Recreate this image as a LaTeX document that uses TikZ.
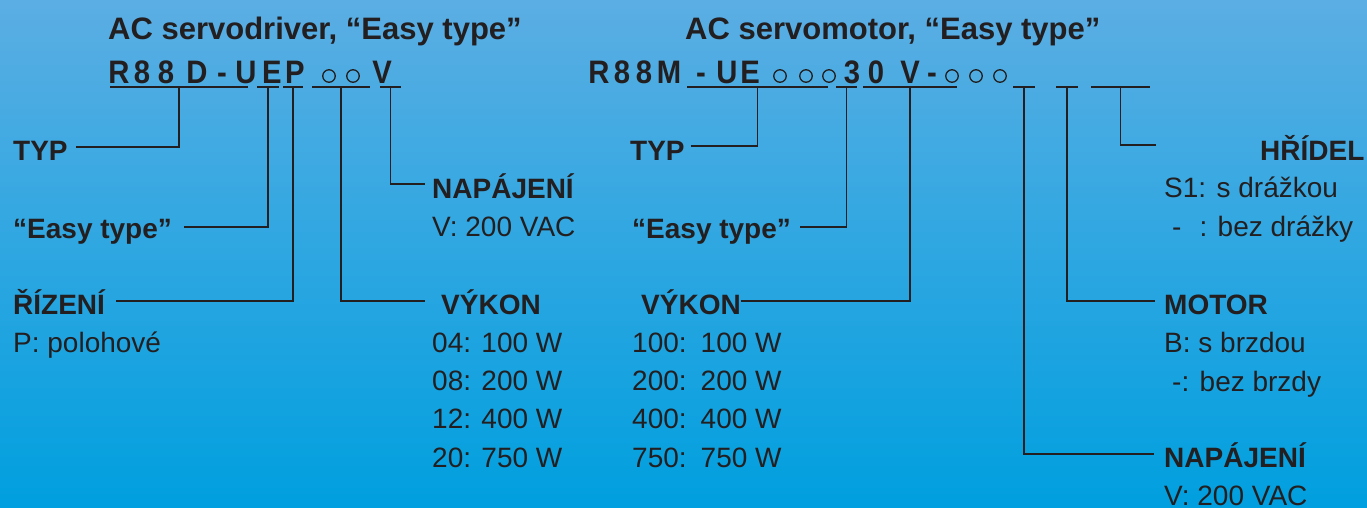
\documentclass[tikz,border=0pt]{standalone}
\usepackage{fontspec}
\setmainfont{Liberation Sans}
\newfontfamily\codefont[FakeStretch=0.9]{Liberation Sans Bold}
\definecolor{bgTop}{HTML}{5BAEE3}
\definecolor{bgBottom}{HTML}{009FDF}
\definecolor{ink}{HTML}{231F20}
\tikzset{
  titletext/.style={font=\bfseries\fontsize{31}{36}\selectfont, text=ink,
    anchor=base west, inner sep=0pt},
  heading/.style={font=\bfseries\fontsize{28}{32}\selectfont, text=ink,
    anchor=base west, inner sep=0pt},
  entry/.style={font=\fontsize{28}{38.3}\selectfont, text=ink,
    anchor=base west, inner sep=0pt, align=left},
  codechar/.style={font=\codefont\fontsize{32.5}{36}\selectfont,
    text=ink, anchor=base, inner sep=0pt},
  slot/.style={circle, draw=ink, line width=1.3pt, minimum size=12.5pt,
    inner sep=0pt},
  lead/.style={draw=ink, line width=1.5pt}
}
\newcommand{\codechar}[3]{\node[codechar] (#1) at (#2,83) {#3};}
\newcommand{\codeslot}[2]{\node[slot] (#1) at (#2,76) {};}
\newcommand{\codeline}[3]{\draw[lead] (#2,87) -- coordinate (#1) (#3,87);}

\begin{document}
\begin{tikzpicture}[x=1pt, y=-1pt]

\shade[top color=bgTop, bottom color=bgBottom] (0,0) rectangle (1367,507);
\useasboundingbox (0,0) rectangle (1367,507);

% Servodriver: R88D-UEP..V
\node[titletext] (drvTitle) at (108,39) {AC servodriver, “Easy type”};
\codechar{drvR}{119}{R}
\codechar{drvEighta}{142}{8}
\codechar{drvEightb}{166}{8}
\codechar{drvD}{197}{D}
\codechar{drvDash}{222}{-}
\codechar{drvU}{246}{U}
\codechar{drvE}{272}{E}
\codechar{drvP}{295}{P}
\codeslot{drvSlota}{329}
\codeslot{drvSlotb}{353}
\codechar{drvV}{382}{V}

\codeline{uDrvTyp}{110}{248}
\codeline{uDrvEasy}{257}{279}
\codeline{uDrvCtrl}{283}{303}
\codeline{uDrvPower}{312}{370}
\codeline{uDrvSupply}{380}{401}

\node[heading] (drvTyp) at (13,160) {TYP};
\node[heading] (drvEasy) at (13,238) {“Easy type”};
\node[heading] (drvCtrl) at (13,314) {ŘÍZENÍ};
\node[entry] (drvCtrlList) at (13,352) {P: polohové};
\node[heading] (drvSupply) at (432,198) {NAPÁJENÍ};
\node[entry] (drvSupplyList) at (432,236) {V: 200 VAC};
\node[heading] (drvPower) at (441,314) {VÝKON};
% base of a multi-line entry is its last line
\node[entry] (drvPowerList) at (432,467)
  {04: 100 W\\08: 200 W\\12: 400 W\\20: 750 W};

\draw[lead] ([shift={(8,-13)}]drvTyp.base east) -| (uDrvTyp);
\draw[lead] ([shift={(12,-11)}]drvEasy.base east) -| (uDrvEasy);
\draw[lead] ([shift={(11,-13)}]drvCtrl.base east) -| (uDrvCtrl);
\draw[lead] (uDrvPower) |- ([shift={(-16,-13)}]drvPower.base west);
\draw[lead] (uDrvSupply) |- ([shift={(-7,-14)}]drvSupply.base west);

% Servomotor: R88M-UE...30V-...
\node[titletext] (motTitle) at (685,39) {AC servomotor, “Easy type”};
\codechar{motR}{599}{R}
\codechar{motEighta}{622}{8}
\codechar{motEightb}{644}{8}
\codechar{motM}{669}{M}
\codechar{motDash}{701}{-}
\codechar{motU}{727}{U}
\codechar{motE}{750}{E}
\codeslot{motSlota}{780}
\codeslot{motSlotb}{806}
\codeslot{motSlotc}{829}
\codechar{motThree}{852}{3}
\codechar{motZero}{876}{0}
\codechar{motV}{910}{V}
\codechar{motDashb}{932}{-}
\codeslot{motSlotd}{952}
\codeslot{motSlote}{976}
\codeslot{motSlotf}{1000}

\codeline{uMotTyp}{687}{828}
\codeline{uMotEasy}{836}{857}
\codeline{uMotPower}{863}{957}
\codeline{uMotSupply}{1013}{1035}
\codeline{uMotBrake}{1056}{1078}
\codeline{uMotShaft}{1091}{1150}

\node[heading] (motTyp) at (630,160) {TYP};
\node[heading] (motEasy) at (632,238) {“Easy type”};
\node[heading] (motPower) at (641,314) {VÝKON};
\node[entry] (motPowerList) at (632,467)
  {100:\hspace{14pt}100 W\\200:\hspace{14pt}200 W\\400:\hspace{14pt}400 W\\750:\hspace{14pt}750 W};
\node[heading] (motShaft) at (1260,160) {HŘÍDEL};
\node[entry] (motShaftList) at (1164,236)
  {S1: s drážkou\\\hspace*{8pt}-\hspace{18pt}: bez drážky};
\node[heading] (motBrake) at (1164,314) {MOTOR};
\node[entry] (motBrakeList) at (1164,391)
  {B: s brzdou\\\hspace*{8pt}-: bez brzdy};
\node[heading] (motSupply) at (1164,467) {NAPÁJENÍ};
\node[entry] (motSupplyList) at (1164,505) {V: 200 VAC};
\coordinate (shaftEnd) at (1156,145);

\draw[lead] ([shift={(6,-14)}]motTyp.base east) -| (uMotTyp);
\draw[lead] ([shift={(9,-11)}]motEasy.base east) -| (uMotEasy);
\draw[lead] ([shift={(0,-13)}]motPower.base east) -| (uMotPower);
\draw[lead] (uMotShaft) |- (shaftEnd);
\draw[lead] (uMotBrake) |- ([shift={(-9,-13)}]motBrake.base west);
\draw[lead] (uMotSupply) |- ([shift={(-10,-13)}]motSupply.base west);

\end{tikzpicture}
\end{document}
